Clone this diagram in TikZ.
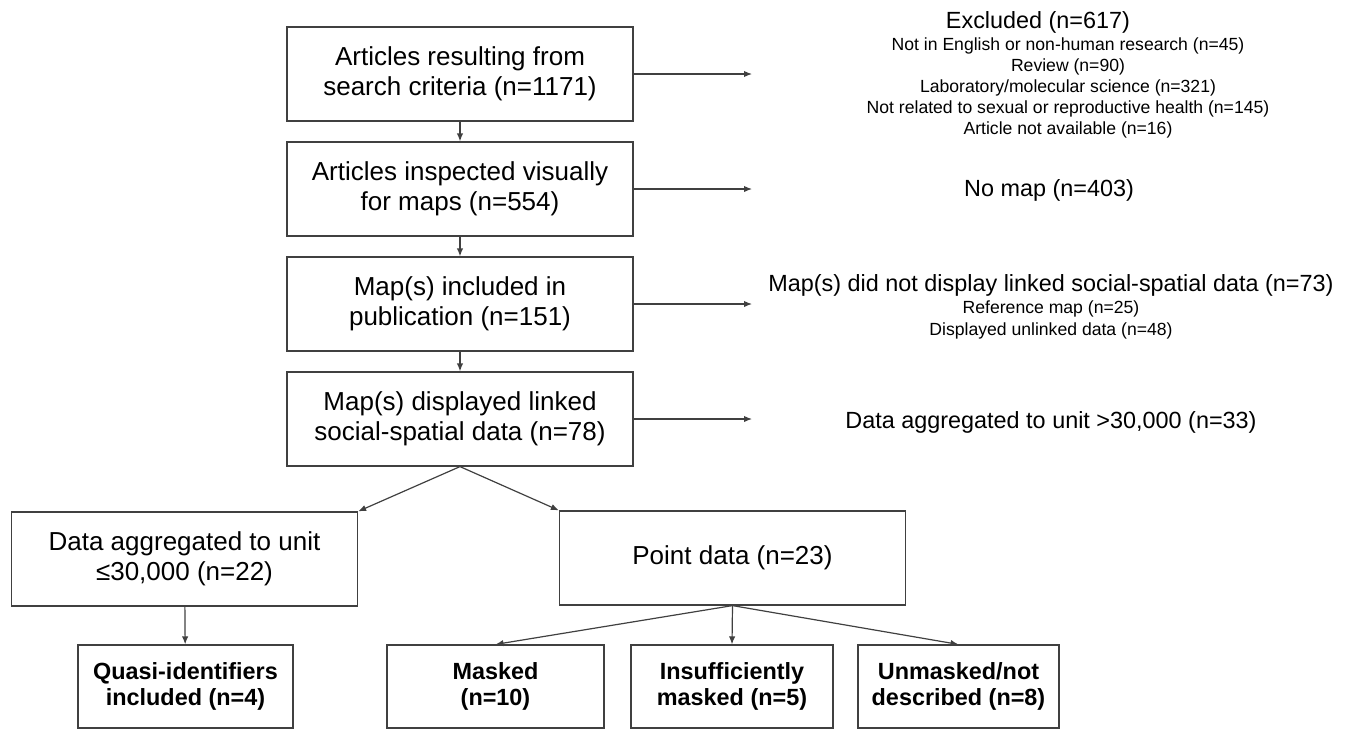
\documentclass[tikz,border=0pt]{standalone}
\usepackage{fontspec}
\setmainfont{Liberation Sans}
\usetikzlibrary{arrows.meta,positioning}

\begin{document}
\begin{tikzpicture}[x=0.5pt,y=-0.5pt,
  >={Latex[length=4pt,width=3.2pt]},
  flowbox/.style={draw=black!75, line width=0.6pt, align=center,
    minimum width=173pt, minimum height=47pt, inner sep=2pt,
    font=\fontsize{13}{15}\selectfont},
  endbox/.style={draw=black!75, line width=0.6pt, align=center,
    minimum height=41.5pt, inner sep=2pt,
    font=\bfseries\fontsize{11.7}{13}\selectfont},
  note/.style={align=center, font=\fontsize{11.7}{13.5}\selectfont},
  subnote/.style={align=center, font=\fontsize{8.8}{10.6}\selectfont},
  link/.style={->, draw=black!75, line width=0.6pt}]
  \useasboundingbox (0,0) rectangle (1357,729);

  % main column
  \node[flowbox] (search) at (460,74) {Articles resulting from\\search criteria (n=1171)};
  \node[flowbox, below=9.9pt of search] (visual) {Articles inspected visually\\for maps (n=554)};
  \node[flowbox, below=9.9pt of visual] (inpub) {Map(s) included in\\publication (n=151)};
  \node[flowbox, below=9.9pt of inpub] (linked) {Map(s) displayed linked\\social-spatial data (n=78)};

  % split
  \node[flowbox] (aggsmall) at (184.5,559) {Data aggregated to unit\\≤30,000 (n=22)};
  \node[flowbox] (point) at (732.5,558) {Point data (n=23)};

  \node[endbox, minimum width=107.5pt] (quasi) at (185.5,686.5) {Quasi-identifiers\\included (n=4)};
  \node[endbox, minimum width=108.5pt] (masked) at (495.5,686.5) {Masked\\(n=10)};
  \node[endbox, minimum width=101pt] (insuff) at (732,686.5) {Insufficiently\\masked (n=5)};
  \node[endbox, minimum width=100.5pt] (unmasked) at (958.5,686.5) {Unmasked/not\\described (n=8)};

  % exclusions on the right
  \node[note] (excl) at (1038,22) {Excluded (n=617)};
  \node[subnote] (excllist) at (1068,88) {Not in English or non-human research (n=45)\\Review (n=90)\\Laboratory/molecular science (n=321)\\Not related to sexual or reproductive health (n=145)\\Article not available (n=16)};
  \node[note] (nomap) at (1049,190) {No map (n=403)};
  \node[note] (notlinked) at (1051,285) {Map(s) did not display linked social-spatial data (n=73)};
  \node[subnote] (notlinkedlist) at (1051,320) {Reference map (n=25)\\Displayed unlinked data (n=48)};
  \node[note] (agglarge) at (1051,422) {Data aggregated to unit >30,000 (n=33)};

  \coordinate (sideend) at (752,0);

  \draw[link] (search) -- (visual);
  \draw[link] (visual) -- (inpub);
  \draw[link] (inpub) -- (linked);
  \draw[link] (search.east) -- (search.east -| sideend);
  \draw[link] (visual.east) -- (visual.east -| sideend);
  \draw[link] (inpub.east) -- (inpub.east -| sideend);
  \draw[link] (linked.east) -- (linked.east -| sideend);
  \draw[link] (linked.south) -- (aggsmall.north east);
  \draw[link] (linked.south) -- (point.north west);
  \draw[link] (aggsmall) -- (quasi);
  \draw[link] (point.south) -- (masked.north);
  \draw[link] (point.south) -- (insuff.north);
  \draw[link] (point.south) -- (unmasked.north);
\end{tikzpicture}
\end{document}
